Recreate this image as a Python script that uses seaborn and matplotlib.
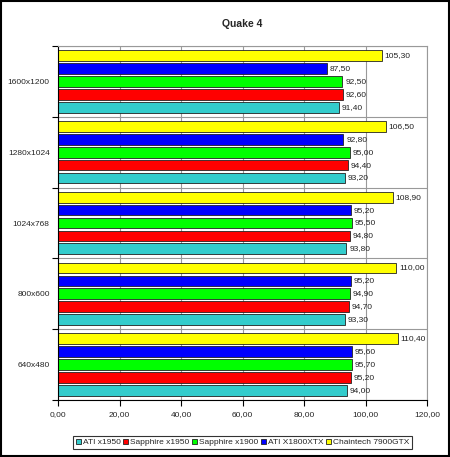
import matplotlib
matplotlib.use("Agg")
import matplotlib.pyplot as plt
import seaborn as sns
import pandas as pd
from matplotlib.patches import Rectangle

resolutions = ["1600x1200", "1280x1024", "1024x768", "800x600", "640x480"]
series = ["ATI x1950", "Sapphire x1950", "Sapphire x1900", "ATI X1800XTX", "Chaintech 7900GTX"]
ati_x1950 = [91.40, 93.20, 93.80, 93.30, 94.00]
sapphire_x1950 = [92.60, 94.40, 94.80, 94.70, 95.20]
sapphire_x1900 = [92.50, 95.00, 95.50, 94.90, 95.70]
ati_x1800xtx = [87.50, 92.80, 95.20, 95.20, 95.60]
chaintech_7900gtx = [105.30, 106.50, 108.90, 110.00, 110.40]
colors = ["#33CCCC", "#FF0000", "#00FF00", "#0000FF", "#FFFF00"]
x_ticks = [0, 20, 40, 60, 80, 100, 120]

values = [ati_x1950, sapphire_x1950, sapphire_x1900, ati_x1800xtx, chaintech_7900gtx]
rows = []
for s, vals in zip(series, values):
    for r, v in zip(resolutions, vals):
        rows.append({"res": r, "series": s, "val": v})
df = pd.DataFrame(rows)

sns.set_style("white")
plt.rcParams["font.family"] = ["Liberation Sans", "DejaVu Sans"]

fig = plt.figure(figsize=(4.5, 4.57), dpi=100)
ax = fig.add_axes([0.129, 0.125, 0.82, 0.774])

draw_order = series[::-1]
palette = dict(zip(series, colors))
sns.barplot(data=df, y="res", x="val", hue="series", order=resolutions,
            hue_order=draw_order, palette=palette, orient="h",
            width=0.91, gap=0.17, edgecolor="#222222", linewidth=0.6,
            saturation=1, ax=ax, errorbar=None)

for cont in ax.containers:
    labels = [f"{v:.2f}".replace(".", ",") for v in cont.datavalues]
    ax.bar_label(cont, labels=labels, padding=2, fontsize=6, color="#222222")

ax.set_xlim(0, 120)
ax.set_ylim(4.5, -0.5)
ax.set_xticks(x_ticks)
ax.set_xticklabels([f"{t:.2f}".replace(".", ",") for t in x_ticks], fontsize=6)
ax.set_yticks(range(len(resolutions)))
ax.set_yticklabels(resolutions, fontsize=6)
ax.set_yticks([i - 0.5 for i in range(len(resolutions) + 1)], minor=True)
ax.tick_params(axis="y", which="major", length=0, pad=6)
ax.tick_params(axis="y", which="minor", length=4, direction="out", left=True, color="black", width=0.8)
ax.tick_params(axis="x", which="major", length=4, direction="out", bottom=True, color="black", width=0.8, pad=4)
ax.set_xlabel("")
ax.set_ylabel("")

ax.grid(False)
ax.xaxis.grid(True, color="#999999", linewidth=0.8)
ax.yaxis.grid(True, which="minor", color="#999999", linewidth=0.8)
ax.set_axisbelow(True)

for side in ["top", "right"]:
    ax.spines[side].set_color("#999999")
    ax.spines[side].set_linewidth(0.8)
for side in ["left", "bottom"]:
    ax.spines[side].set_color("black")
    ax.spines[side].set_linewidth(0.8)

ax.set_title("Quake 4", fontsize=7.5, fontweight="bold", pad=14)

handles, labs = ax.get_legend_handles_labels()
hmap = dict(zip(labs, handles))
leg = ax.legend([hmap[s] for s in series], series, loc="upper center",
                bbox_to_anchor=(0.5, -0.103), ncol=5, fontsize=6,
                frameon=True, fancybox=False, edgecolor="black",
                handlelength=0.6, handleheight=0.6, handletextpad=0.2,
                columnspacing=0.35, borderpad=0.3, borderaxespad=0)
leg.get_frame().set_linewidth(0.8)

fig.patches.append(Rectangle((0.002, 0.002), 0.996, 0.996, transform=fig.transFigure,
                             fill=False, edgecolor="black", linewidth=1.5))

fig.savefig("out.png", dpi=100, facecolor="white")
